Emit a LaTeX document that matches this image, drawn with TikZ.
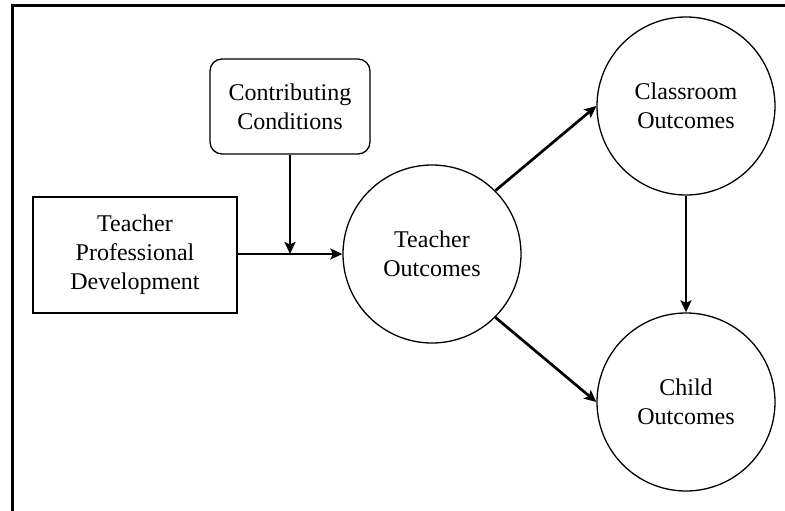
\documentclass[tikz,border=0pt]{standalone}
\usepackage{fontspec}
\setmainfont{Liberation Serif}
\usetikzlibrary{arrows.meta}

\tikzset{
  lbl/.style={align=center, font=\fontsize{24}{29}\selectfont, inner sep=0pt},
  sqbox/.style={lbl, draw, line width=1.3pt, rectangle, minimum width=204pt, minimum height=116pt},
  rbox/.style={lbl, draw, line width=1.3pt, rectangle, rounded corners=12pt, minimum width=160pt, minimum height=95pt},
  outcome/.style={lbl, draw, line width=1.3pt, circle, minimum size=178pt},
  link/.style={line width=2.7pt, -{Stealth[length=12pt, width=11pt, inset=2.5pt]}},
  frameline/.style={line width=3pt}
}

\begin{document}
\begin{tikzpicture}[x=1pt, y=-1pt]
  \useasboundingbox (0,0) rectangle (785,511);

  % outer frame (top and left edges)
  \coordinate (fbl) at (12,511);
  \coordinate (ftl) at (12,6);
  \coordinate (ftr) at (785,6);
  \draw[frameline] (fbl) -- (ftl) -- (ftr);

  % nodes
  \node[sqbox]   (pd) at (135,255) {Teacher\\Professional\\Development};
  \node[rbox]    (cc) at (290,106.5) {Contributing\\Conditions};
  \node[outcome] (to) at (432,254) {Teacher\\Outcomes};
  \node[outcome] (co) at (686,106) {Classroom\\Outcomes};
  \node[outcome] (ch) at (686,402) {Child\\Outcomes};

  % junction where conditions meet the main path
  \coordinate (jn) at (cc.south |- to.west);

  % connectors
  \draw[link] (pd.east |- to.west) -- (to.west);
  \draw[link] (cc.south) -- (jn);
  \draw[link] (to.north east) -- (co.west);
  \draw[link] (to.south east) -- (ch.west);
  \draw[link] (co.south) -- (ch.north);
\end{tikzpicture}
\end{document}
